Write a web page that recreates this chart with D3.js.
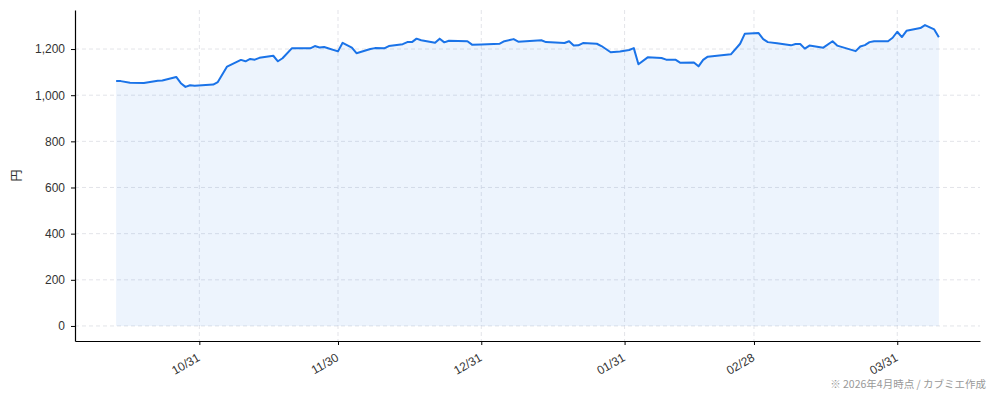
<!DOCTYPE html>
<html>
<head>
<meta charset="utf-8">
<script src="https://cdn.jsdelivr.net/npm/d3@7"></script>
<style>
  body { margin: 0; background: #fff; }
  svg { display: block; font-family: "Noto Sans CJK JP", "Noto Sans", sans-serif; }
</style>
</head>
<body>
<div id="chart"></div>
<script>
// price history (円)
const dates = [
  '2025-10-13', '2025-10-14', '2025-10-16', '2025-10-19', '2025-10-22', '2025-10-23', '2025-10-26', '2025-10-27',
  '2025-10-28', '2025-10-29', '2025-10-30', '2025-11-03', '2025-11-04', '2025-11-06', '2025-11-09', '2025-11-10',
  '2025-11-11', '2025-11-12', '2025-11-13', '2025-11-16', '2025-11-17', '2025-11-18', '2025-11-20', '2025-11-24',
  '2025-11-25', '2025-11-26', '2025-11-27', '2025-11-30', '2025-12-01', '2025-12-03', '2025-12-04', '2025-12-07',
  '2025-12-08', '2025-12-10', '2025-12-11', '2025-12-14', '2025-12-15', '2025-12-16', '2025-12-17', '2025-12-18',
  '2025-12-21', '2025-12-22', '2025-12-23', '2025-12-24', '2025-12-28', '2025-12-29', '2025-12-31', '2026-01-04',
  '2026-01-05', '2026-01-07', '2026-01-08', '2026-01-13', '2026-01-14', '2026-01-18', '2026-01-19', '2026-01-20',
  '2026-01-21', '2026-01-22', '2026-01-25', '2026-01-26', '2026-01-28', '2026-01-30', '2026-02-01', '2026-02-02',
  '2026-02-03', '2026-02-05', '2026-02-08', '2026-02-09', '2026-02-11', '2026-02-12', '2026-02-15', '2026-02-16',
  '2026-02-17', '2026-02-18', '2026-02-23', '2026-02-25', '2026-02-26', '2026-03-01', '2026-03-02', '2026-03-03',
  '2026-03-05', '2026-03-08', '2026-03-09', '2026-03-10', '2026-03-11', '2026-03-12', '2026-03-15', '2026-03-17',
  '2026-03-18', '2026-03-22', '2026-03-23', '2026-03-24', '2026-03-25', '2026-03-26', '2026-03-29', '2026-03-30',
  '2026-03-31', '2026-04-01', '2026-04-02', '2026-04-05', '2026-04-06', '2026-04-08', '2026-04-09'
];
const prices = [
  1061, 1061, 1054, 1053, 1063, 1064, 1079, 1052,
  1036, 1043, 1041, 1046, 1057, 1124, 1153, 1147,
  1157, 1154, 1162, 1171, 1147, 1160, 1203, 1203,
  1213, 1207, 1209, 1190, 1227, 1206, 1182, 1200,
  1204, 1203, 1213, 1221, 1230, 1230, 1245, 1238,
  1227, 1245, 1229, 1236, 1234, 1219, 1220, 1223,
  1234, 1243, 1232, 1238, 1230, 1226, 1234, 1215,
  1216, 1226, 1223, 1213, 1186, 1189, 1196, 1204,
  1134, 1164, 1161, 1154, 1154, 1141, 1142, 1125,
  1153, 1167, 1177, 1223, 1266, 1269, 1243, 1230,
  1225, 1216, 1222, 1222, 1202, 1215, 1206, 1234,
  1215, 1191, 1211, 1217, 1230, 1234, 1234, 1249,
  1275, 1252, 1279, 1291, 1304, 1285, 1251
];
const xTickDates = ['2025-10-31', '2025-11-30', '2025-12-31', '2026-01-31', '2026-02-28', '2026-03-31'];
const yTicks = [0, 200, 400, 600, 800, 1000, 1200];

const width = 994, height = 401;
const margin = { top: 10, right: 14, bottom: 60, left: 75 };
const parse = d3.timeParse('%Y-%m-%d');

const data = dates.map((d, i) => ({ date: parse(d), value: prices[i] }));

const svg = d3.select('#chart').append('svg')
  .attr('width', width)
  .attr('height', height);

// matplotlib-style 5% padding on both axes
const xExt = d3.extent(data, (d) => d.date);
const xPad = (xExt[1] - xExt[0]) * 0.05;
const x = d3.scaleTime()
  .domain([new Date(+xExt[0] - xPad), new Date(+xExt[1] + xPad)])
  .range([margin.left, width - margin.right]);

const yMax = d3.max(prices);
const y = d3.scaleLinear()
  .domain([-yMax * 0.05, yMax * 1.05])
  .range([height - margin.bottom, margin.top]);

// grid
svg.append('g')
  .selectAll('line')
  .data(yTicks)
  .join('line')
  .attr('x1', margin.left)
  .attr('x2', width - margin.right)
  .attr('y1', (d) => y(d))
  .attr('y2', (d) => y(d))
  .attr('stroke', '#dcdde3')
  .attr('stroke-dasharray', '4,3')
  .attr('stroke-width', 0.8);

svg.append('g')
  .selectAll('line')
  .data(xTickDates.map(parse))
  .join('line')
  .attr('x1', (d) => x(d))
  .attr('x2', (d) => x(d))
  .attr('y1', margin.top)
  .attr('y2', height - margin.bottom)
  .attr('stroke', '#dcdde3')
  .attr('stroke-dasharray', '4,3')
  .attr('stroke-width', 0.8);

// area + line
const area = d3.area()
  .x((d) => x(d.date))
  .y0(y(0))
  .y1((d) => y(d.value));

svg.append('path')
  .datum(data)
  .attr('d', area)
  .attr('fill', '#1a73e8')
  .attr('fill-opacity', 0.08);

const line = d3.line()
  .x((d) => x(d.date))
  .y((d) => y(d.value));

svg.append('path')
  .datum(data)
  .attr('d', line)
  .attr('fill', 'none')
  .attr('stroke', '#1a73e8')
  .attr('stroke-width', 2)
  .attr('stroke-linejoin', 'round');

// y axis
const yAxis = svg.append('g')
  .attr('transform', `translate(${margin.left},0)`)
  .call(d3.axisLeft(y).tickValues(yTicks).tickFormat(d3.format(',')).tickSizeInner(4).tickSizeOuter(0).tickPadding(6));
yAxis.select('.domain').attr('stroke', '#000').attr('stroke-width', 1.2);
yAxis.selectAll('text').attr('font-size', 12).attr('fill', '#333');

// x axis
const xAxis = svg.append('g')
  .attr('transform', `translate(0,${height - margin.bottom})`)
  .call(d3.axisBottom(x).tickValues(xTickDates.map(parse)).tickFormat(d3.timeFormat('%m/%d')).tickSizeInner(4).tickSizeOuter(0));
xAxis.select('.domain').attr('stroke', '#000').attr('stroke-width', 1.2);
xAxis.selectAll('text')
  .attr('font-size', 12)
  .attr('fill', '#333')
  .attr('text-anchor', 'end')
  .attr('dy', null)
  .attr('y', 0)
  .attr('transform', 'translate(1,19) rotate(-30)');

// y label
svg.append('text')
  .attr('transform', `translate(21,${(margin.top + height - margin.bottom) / 2}) rotate(-90)`)
  .attr('text-anchor', 'middle')
  .attr('font-size', 12)
  .attr('fill', '#333')
  .text('円');

// footnote
svg.append('text')
  .attr('x', width - 8)
  .attr('y', 388)
  .attr('text-anchor', 'end')
  .attr('font-family', '"Noto Sans CJK JP", sans-serif')
  .attr('font-size', 10.5)
  .attr('fill', '#999')
  .text('※ 2026年4月時点 / カブミエ作成');
</script>
</body>
</html>
